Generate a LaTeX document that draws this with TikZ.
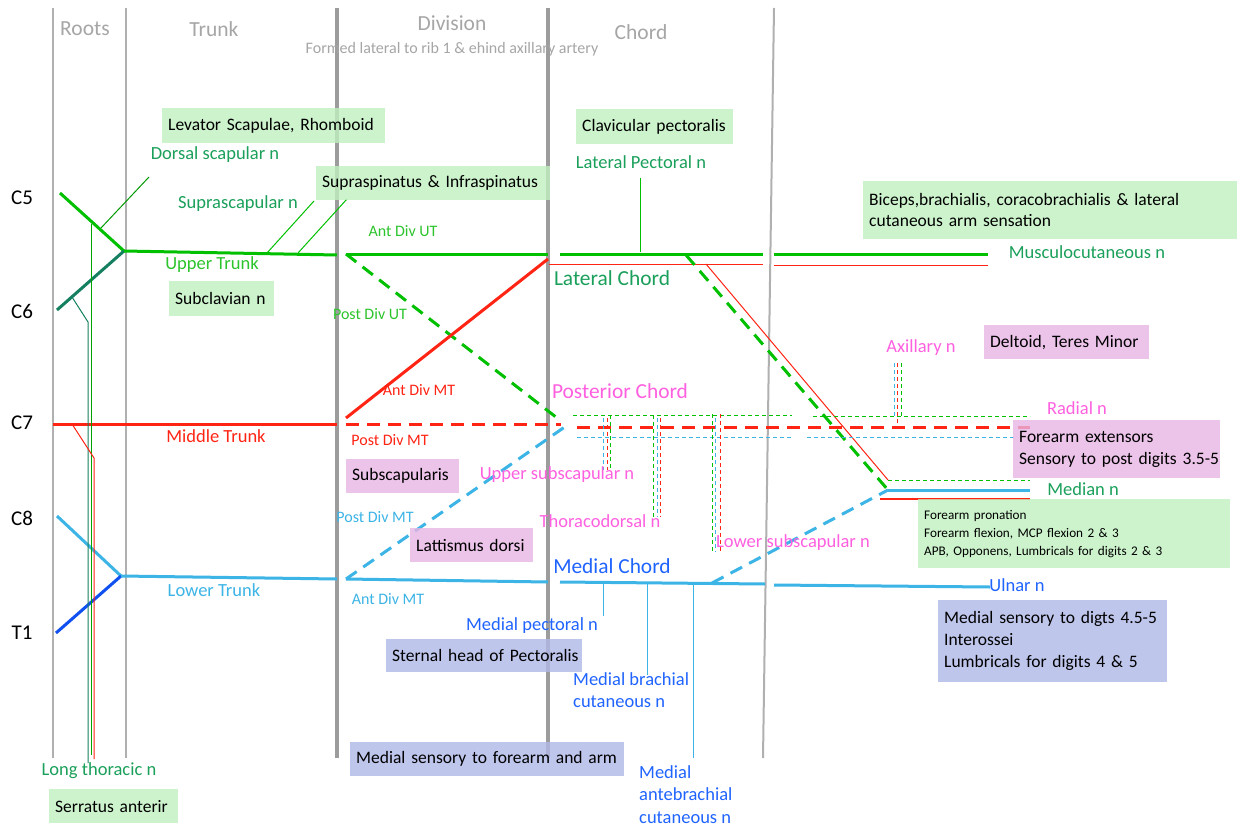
\documentclass[tikz,border=0pt]{standalone}
\usepackage{fontspec}
\setmainfont{Carlito}
\begin{document}
\definecolor{gridA}{HTML}{B0B0B0}
\definecolor{gridB}{HTML}{9C9C9C}
\definecolor{hdr}{HTML}{A6A6A6}
\definecolor{lgreen}{HTML}{00C000}
\definecolor{tgreen}{HTML}{2CC42C}
\definecolor{dgreen}{HTML}{1AA05A}
\definecolor{rootsix}{HTML}{148060}
\definecolor{nred}{HTML}{FF2414}
\definecolor{lblue}{HTML}{3CB4E6}
\definecolor{dblue}{HTML}{1050F0}
\definecolor{tblue}{HTML}{2064FF}
\definecolor{npink}{HTML}{FF60E0}
\definecolor{boxg}{HTML}{C0F0C0}
\definecolor{boxp}{HTML}{E8B4E4}
\definecolor{boxb}{HTML}{B0B8E8}
\begin{tikzpicture}[x=1pt,y=-1pt,
  lab/.style={inner sep=0pt, font=\fontsize{18.5}{22.5}\selectfont},
  big/.style={inner sep=0pt, font=\fontsize{21.4}{24}\selectfont},
  small/.style={inner sep=0pt, font=\fontsize{16}{18}\selectfont},
  head/.style={inner sep=0pt, text=hdr, font=\fontsize{21.5}{24}\selectfont},
  rowlab/.style={inner sep=0pt, font=\fontsize{21}{24}\selectfont},
  panel/.style={anchor=north west, inner xsep=6pt, inner ysep=0pt, align=left,
    fill opacity=0.8, text opacity=1, font=\fontsize{17.5}{21}\selectfont},
  gbox/.style={panel, fill=boxg},
  pbox/.style={panel, fill=boxp},
  bbox/.style={panel, fill=boxb},
  thickline/.style={line width=3pt},
  thinline/.style={line width=1pt},
  bigdash/.style={line width=3pt, dash pattern=on 13pt off 8pt},
  smalldash/.style={line width=1pt, dash pattern=on 4pt off 3pt},
  gridline/.style={line width=2.5pt, gridA}
]
\useasboundingbox (0,0) rectangle (1243,827);
\fill[white] (0,0) rectangle (1243,827);

% ---------- column separators ----------
\coordinate (g1t) at (53,8);   \coordinate (g1b) at (53,758);
\coordinate (g2t) at (126,8);  \coordinate (g2b) at (126,758);
\coordinate (g3t) at (337,8);  \coordinate (g3b) at (337,758);
\coordinate (g4t) at (548,8);  \coordinate (g4b) at (548,758);
\coordinate (g5t) at (774,8);  \coordinate (g5b) at (763,758);
\draw[gridline] (g1t) -- (g1b);
\draw[gridline] (g2t) -- (g2b);
\draw[line width=3.5pt, gridB] (g3t) -- (g3b);
\draw[line width=3.5pt, gridB] (g4t) -- (g4b);
\draw[line width=2pt, gridA] (g5t) -- (g5b);

% ---------- headers ----------
\node[head] (hroots) at (85,29) {Roots};
\node[head] (htrunk) at (214,29) {Trunk};
\node[head] (hdiv) at (452,23) {Division};
\node[small, text=hdr] (hsub) at (452,49) {Formed lateral to rib 1 \& ehind axillary artery};
\node[head] (hchord) at (641,32) {Chord};

% ---------- root labels ----------
\node[rowlab] (rc5) at (22,198) {C5};
\node[rowlab] (rc6) at (22,311) {C6};
\node[rowlab] (rc7) at (22,423) {C7};
\node[rowlab] (rc8) at (22,518) {C8};
\node[rowlab] (rt1) at (22,633) {T1};

% ---------- junction points ----------
\coordinate (c5) at (60,193);
\coordinate (ut) at (124,251);
\coordinate (c6) at (57,310);
\coordinate (utend) at (337,255);
\coordinate (c7) at (53,424);
\coordinate (mtend) at (337,424);
\coordinate (c8) at (57,516);
\coordinate (lt) at (121,576);
\coordinate (t1) at (56,633);
\coordinate (ltend) at (337,579);

% ---------- roots & trunks ----------
\draw[thickline, lgreen] (c5) -- (ut);
\draw[thickline, rootsix] (c6) -- (ut);
\draw[thickline, lgreen] (ut) -- (utend);
\draw[thickline, nred] (c7) -- (mtend);
\draw[thickline, lblue] (c8) -- (lt);
\draw[thickline, dblue] (t1) -- (lt);
\draw[thickline, lblue] (lt) -- (ltend);

% dorsal scapular, long thoracic contributions
\coordinate (dsa) at (101,228); \coordinate (dsb) at (149,177);
\draw[thinline, lgreen!80!black] (dsa) -- (dsb);
\coordinate (lta) at (91,224); \coordinate (ltb) at (91,755);
\draw[thinline, lgreen!85!black] (lta) -- (ltb);
\coordinate (ltc) at (72,297); \coordinate (ltd) at (88,322); \coordinate (lte) at (88,763);
\draw[thinline, rootsix] (ltc) -- (ltd) -- (lte);
\coordinate (ltf) at (72,424); \coordinate (ltg) at (94,458); \coordinate (lth) at (94,759);
\draw[thinline, nred] (ltf) -- (ltg) -- (lth);

% suprascapular branches
\coordinate (ssa) at (267,253); \coordinate (ssb) at (314,201);
\coordinate (ssc) at (298,253); \coordinate (ssd) at (347,199);
\draw[thinline, lgreen] (ssa) -- (ssb);
\draw[thinline, lgreen] (ssc) -- (ssd);

% ---------- divisions ----------
\coordinate (dut) at (346,254);
\coordinate (dutend) at (548,254);
\coordinate (pcj) at (561,421);
\coordinate (dmta) at (346,418);
\coordinate (dmtb) at (548,259);
\coordinate (dmtp) at (346,424);
\coordinate (dmtq) at (561,424);
\coordinate (dlt) at (346,579);
\coordinate (dltend) at (548,582);
\coordinate (pcb) at (569,424);
\draw[thickline, lgreen] (dut) -- (dutend);
\draw[bigdash, lgreen] (dut) -- (pcj);
\draw[thickline, nred] (dmta) -- (dmtb);
\draw[bigdash, nred] (dmtp) -- (dmtq);
\draw[bigdash, lblue] (dlt) -- (pcb);
\draw[thickline, lblue] (dlt) -- (dltend);

% ---------- lateral chord ----------
\coordinate (lca) at (560,254); \coordinate (lcb) at (763,254);
\coordinate (lcc) at (774,254); \coordinate (lcd) at (988,254);
\draw[thickline, lgreen] (lca) -- (lcb);
\draw[thickline, lgreen] (lcc) -- (lcd);
\coordinate (lra) at (549,264); \coordinate (lrb) at (763,264);
\coordinate (lrc) at (774,265); \coordinate (lrd) at (988,265);
\draw[thinline, nred] (lra) -- (lrb);
\draw[thinline, nred] (lrc) -- (lrd);
\coordinate (lpa) at (640,252); \coordinate (lpb) at (640,178);
\draw[thinline, lgreen] (lpa) -- (lpb);

% lateral root of median
\coordinate (mla) at (686,255); \coordinate (mj) at (888,490);
\draw[bigdash, lgreen] (mla) -- (mj);
\coordinate (mra) at (706,264); \coordinate (mrb) at (888,480);
\coordinate (mgc) at (1030,480);
\draw[thinline, nred] (mra) -- (mrb);
\draw[smalldash, lgreen] (mrb) -- (mgc);
\coordinate (mrc) at (880,499); \coordinate (mrd) at (1030,499);
\draw[line width=2.5pt, nred] (mrc) -- (mrd);
\coordinate (mbe) at (1030,490);
\draw[thickline, lblue] (mj) -- (mbe);

% ---------- posterior chord ----------
\coordinate (pga) at (573,415); \coordinate (pgb) at (792,415);
\coordinate (pgc) at (813,416); \coordinate (pgd) at (1030,416);
\draw[smalldash, lgreen] (pga) -- (pgb);
\draw[smalldash, lgreen] (pgc) -- (pgd);
\coordinate (pra) at (577,427); \coordinate (prb) at (1030,427);
\draw[bigdash, nred] (pra) -- (prb);
\coordinate (pba) at (577,437); \coordinate (pbb) at (793,437);
\coordinate (pbc) at (807,437); \coordinate (pbd) at (1015,437);
\draw[smalldash, lblue] (pba) -- (pbb);
\draw[smalldash, lblue] (pbc) -- (pbd);

% branches of the posterior chord
\foreach \xx/\col/\ya/\yb in {603/lblue/418/470, 607/nred/418/470, 610/lgreen/415/470,
    653/lgreen/415/517, 657/lblue/418/517, 660/nred/418/517,
    712/lgreen/414/552, 715/lblue/418/552, 720/nred/414/552,
    894/lblue/363/416, 897/nred/363/427, 901/lgreen/363/416}
  \draw[smalldash, \col] (\xx,\ya) -- (\xx,\yb);

% ---------- medial chord ----------
\coordinate (mca) at (560,582); \coordinate (mcb) at (765,584);
\coordinate (mcc) at (774,585); \coordinate (mcd) at (990,587);
\draw[thickline, lblue] (mca) -- (mcb);
\draw[thickline, lblue] (mcc) -- (mcd);
\coordinate (mma) at (712,583);
\draw[bigdash, lblue] (mma) -- (mj);
\coordinate (mpa) at (603,583); \coordinate (mpb) at (603,616);
\coordinate (mba) at (647,583); \coordinate (mbb) at (647,675);
\coordinate (maa) at (693,584); \coordinate (mab) at (693,758);
\draw[thinline, lblue] (mpa) -- (mpb);
\draw[thinline, lblue] (mba) -- (mbb);
\draw[thinline, lblue] (maa) -- (mab);

% ---------- nerve and division labels ----------
\node[lab, text=dgreen] (ldors) at (215,155) {Dorsal scapular n};
\node[lab, text=dgreen] (lsupr) at (238,204) {Suprascapular n};
\node[lab, text=tgreen] (lut) at (212,265) {Upper Trunk};
\node[lab, text=nred] (lmt) at (216,436) {Middle Trunk};
\node[lab, text=lblue] (llt) at (214,590) {Lower Trunk};
\node[lab, text=dgreen] (llong) at (99,771) {Long thoracic n};

\node[small, text=tgreen] (ladut) at (403,231) {Ant Div UT};
\node[small, text=tgreen] (lpdut) at (370,314) {Post Div UT};
\node[small, text=nred] (ladmt) at (419,390) {Ant Div MT};
\node[small, text=nred] (lpdmt) at (390,440) {Post Div MT};
\node[small, text=lblue] (lpdlt) at (375,517) {Post Div MT};
\node[small, text=lblue] (ladlt) at (388,599) {Ant Div MT};

\node[big, text=dgreen] (llc) at (612,278) {Lateral Chord};
\node[big, text=npink] (lpc) at (620,391) {Posterior Chord};
\node[big, text=tblue] (lmc) at (612,566) {Medial Chord};

\node[lab, text=dgreen] (llp) at (641,162) {Lateral Pectoral n};
\node[lab, text=dgreen] (lmus) at (1087,252) {Musculocutaneous n};
\node[lab, text=npink] (lax) at (921,348) {Axillary n};
\node[lab, text=npink] (lrad) at (1077,408) {Radial n};
\node[lab, text=dgreen] (lmed) at (1083,489) {Median n};
\node[lab, text=tblue] (luln) at (1017,585) {Ulnar n};
\node[lab, text=npink] (lups) at (557,475) {Upper subscapular n};
\node[lab, text=npink] (lthd) at (600,521) {Thoracodorsal n};
\node[lab, text=npink] (llos) at (793,543) {Lower subscapular n};
\node[lab, text=tblue] (lmp) at (532,626) {Medial pectoral n};
\node[lab, text=tblue, anchor=north west, align=left] (lmbc) at (573,672) {Medial brachial\\cutaneous n};
\node[lab, text=tblue, anchor=north west, align=left] (lmac) at (639,765) {Medial\\antebrachial\\cutaneous n};

% ---------- muscle / territory panels ----------
\node[gbox, text width=211pt, minimum height=35pt] (plev) at (162,108) {\mbox{Levator Scapulae, Rhomboid}};
\node[gbox, text width=222pt, minimum height=34pt] (psup) at (316,166) {\mbox{Supraspinatus \& Infraspinatus}};
\node[gbox, text width=93pt, minimum height=35pt] (psub) at (169,281) {\mbox{Subclavian n}};
\node[gbox, text width=145pt, minimum height=35pt] (pclav) at (576,109) {\mbox{Clavicular pectoralis}};
\node[gbox, text width=362pt, minimum height=58pt] (pbic) at (863,181) {\mbox{Biceps,brachialis, coracobrachialis \& lateral}\\\mbox{cutaneous arm sensation}};
\node[pbox, text width=153pt, minimum height=34pt] (pdel) at (984,325) {\mbox{Deltoid, Teres Minor}};
\node[pbox, text width=195pt, minimum height=58pt, font=\fontsize{17.5}{22.5}\selectfont] (pext) at (1013,420) {\mbox{Forearm extensors}\\\mbox{Sensory to post digits 3.5-5}};
\node[pbox, text width=101pt, minimum height=34pt] (pssc) at (346,459) {\mbox{Subscapularis}};
\node[pbox, text width=111pt, minimum height=34pt] (plat) at (410,528) {\mbox{Lattismus dorsi}};
\node[gbox, text width=300pt, minimum height=69pt, font=\fontsize{13.2}{18}\selectfont] (ppro) at (918,499) {\mbox{Forearm pronation}\\\mbox{Forearm flexion, MCP flexion 2 \& 3}\\\mbox{APB, Opponens, Lumbricals for digits 2 \& 3}};
\node[bbox, text width=184pt, minimum height=33pt] (pste) at (386,639) {\mbox{Sternal head of Pectoralis}};
\node[bbox, text width=217pt, minimum height=82pt, font=\fontsize{17.5}{22}\selectfont] (puln) at (938,600) {\mbox{Medial sensory to digts 4.5-5}\\\mbox{Interossei}\\\mbox{Lumbricals for digits 4 \& 5}};
\node[bbox, text width=262pt, minimum height=34pt] (pmsf) at (350,742) {\mbox{Medial sensory to forearm and arm}};
\node[gbox, text width=117pt, minimum height=34pt] (pser) at (49,789) {\mbox{Serratus anterir}};
\end{tikzpicture}
\end{document}
